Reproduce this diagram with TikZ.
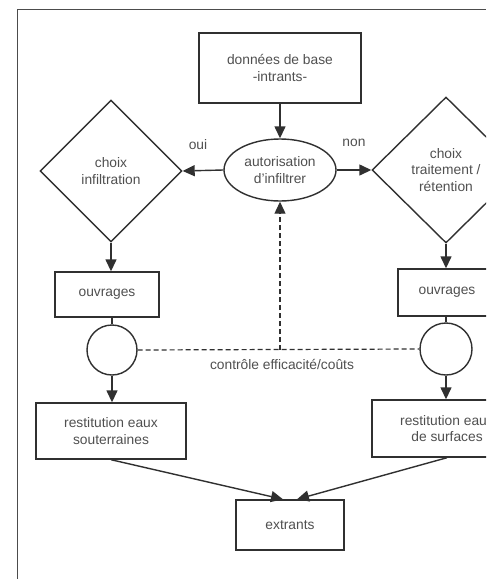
\documentclass[tikz,border=0pt]{standalone}
\usepackage{fontspec}
\setmainfont{Liberation Sans}
\usetikzlibrary{shapes.geometric,arrows.meta}
\definecolor{ln}{HTML}{303030}
\definecolor{tx}{HTML}{505050}
\begin{document}
\begin{tikzpicture}[x=1pt,y=-1pt,
  every node/.style={font=\fontsize{13.8}{16.7}\selectfont, text=tx, align=center},
  box/.style={draw=ln, line width=1.4pt, rectangle, inner sep=0pt},
  dia/.style={draw=ln, line width=1.4pt, diamond, inner sep=0pt},
  ell/.style={draw=ln, line width=1.4pt, ellipse, inner sep=0pt},
  circ/.style={draw=ln, line width=1.4pt, circle, inner sep=0pt, minimum size=50pt},
  con/.style={draw=ln, line width=1.4pt},
  tip/.style={-{Triangle[length=12pt,width=11pt]}},
  arr/.style={con, tip},
  dsh/.style={con, line width=1.2pt, dash pattern=on 5pt off 3pt},
  lbl/.style={inner sep=0pt}]
\useasboundingbox (0,0) rectangle (494,579);
\fill[white] (0,0) rectangle (494,579);
\draw[line width=0.9pt, black!70] (17,579) -- (17,9) -- (486,9);
\begin{scope}
\clip (0,0) rectangle (486,579);
\node[box, minimum width=162pt, minimum height=70pt] (db) at (280,68) {données de base\\-intrants-};
\node[ell, minimum width=112pt, minimum height=62pt] (au) at (280,170) {autorisation\\d'infiltrer};
\node[dia, minimum width=142pt, minimum height=142pt] (ld) at (111,171) {choix\\infiltration};
\node[dia, minimum width=148pt, minimum height=146pt] (rd) at (446,170) {choix\\traitement /\\rétention};
\node[box, minimum width=104pt, minimum height=45pt] (ol) at (107,294.5) {ouvrages};
\node[box, minimum width=98pt, minimum height=47pt] (or) at (447,292.5) {ouvrages};
\node[circ] (cl) at (112,350) {};
\node[circ, minimum size=52pt] (cr) at (446,349) {};
\node[box, minimum width=150pt, minimum height=56pt] (rl) at (111,431) {restitution eaux\\souterraines};
\node[box, minimum width=150pt, minimum height=57pt] (rr) at (447,428.5) {restitution eaux\\de surfaces};
\node[box, minimum width=108pt, minimum height=50pt] (ex) at (290,525) {extrants};
\node[lbl] (oui) at (198,145) {oui};
\node[lbl] (non) at (354,143) {non};
\node[lbl] (ctl) at (282,364) {contrôle efficacité/coûts};
\coordinate (dm) at (au.south |- cl.east);
\coordinate (exl) at ([xshift=-7pt]ex.north);
\coordinate (exr) at ([xshift=7pt]ex.north);
\draw[arr] (db) -- (au);
\draw[arr] (au.west) -- (ld.east);
\draw[arr] (au.east) -- (rd.west);
\draw[arr] (ld.south) -- (ld.south |- ol.north);
\draw[arr] (rd.south) -- (rd.south |- or.north);
\draw[con] (cl.north |- ol.south) -- (cl.north);
\draw[con] (cr.north |- or.south) -- (cr.north);
\draw[arr] (cl.south) -- (cl.south |- rl.north);
\draw[arr] (cr.south) -- (cr.south |- rr.north);
\draw[dsh] (cl.east) -- (cr.west);
\draw[dsh, tip] (dm) -- (au.south);
\draw[arr] (rl.south) -- (exl);
\draw[arr] (rr.south) -- (exr);
\end{scope}
\end{tikzpicture}
\end{document}
